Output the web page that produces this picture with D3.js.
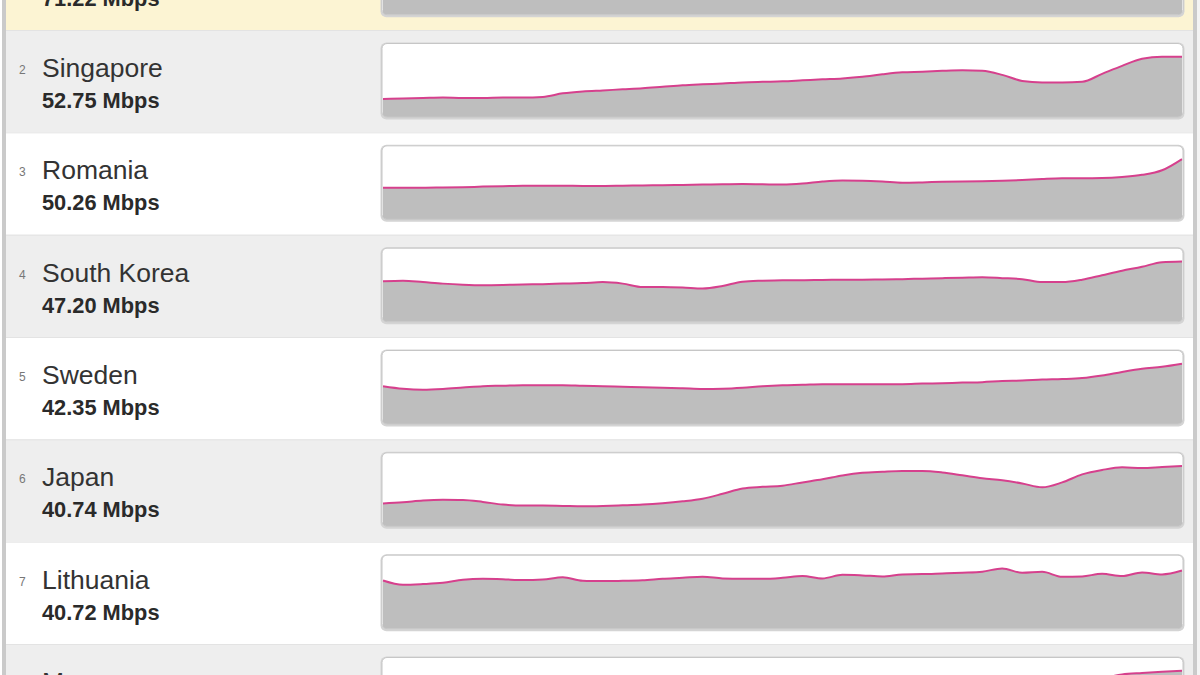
<!DOCTYPE html>
<html>
<head>
<meta charset="utf-8">
<script src="https://cdn.jsdelivr.net/npm/d3@7/dist/d3.min.js"></script>
<style>
  html, body { margin: 0; padding: 0; background: #ffffff; }
  svg { display: block; }
</style>
</head>
<body>
<svg id="chart" width="1200" height="675"></svg>
<script>
// ---------------- DATA ----------------
const ranks = [1, 2, 3, 4, 5, 6, 7, 8];
const countries = ["Hong Kong", "Singapore", "Romania", "South Korea", "Sweden", "Japan", "Lithuania", "Macau"];
const speedLabels = ["71.22 Mbps", "52.75 Mbps", "50.26 Mbps", "47.20 Mbps", "42.35 Mbps", "40.74 Mbps", "40.72 Mbps", ""];

const hongKong = [44.0, 46.5, 49.0, 52.0, 54.5, 57.0, 60.0, 62.5, 65.0, 68.0, 71.22];
const singapore = [15.8, 16.3, 16.7, 17.1, 16.7, 16.7, 17.1, 17.1, 17.6, 20.7, 22.4, 23.3, 24.2, 25.1, 26.4, 27.7, 28.6, 29.4, 30.3, 30.8, 31.2, 32.1, 33.0, 33.8, 35.2, 37.4, 39.1, 39.6, 40.4, 40.9, 40.4, 36.9, 31.6, 30.3, 30.3, 30.8, 37.8, 44.8, 51.0, 52.75, 52.75];
const romania = [26.4, 26.4, 26.4, 26.6, 26.8, 27.3, 27.7, 28.1, 28.1, 28.1, 27.9, 27.9, 28.1, 28.3, 28.5, 28.7, 29.0, 29.2, 29.4, 29.2, 29.0, 29.8, 31.5, 32.4, 32.2, 31.5, 30.5, 30.8, 31.3, 31.5, 31.7, 32.1, 32.8, 33.7, 34.3, 34.3, 34.5, 35.4, 37.1, 40.9, 50.26];
const southKorea = [31.7, 32.1, 31.0, 29.8, 29.0, 28.6, 28.8, 29.2, 29.4, 29.8, 30.2, 31.0, 29.8, 27.1, 27.1, 26.7, 25.9, 27.9, 31.3, 32.1, 32.5, 32.5, 32.7, 32.8, 32.9, 33.0, 33.3, 33.7, 34.1, 34.4, 34.7, 34.1, 33.3, 31.0, 31.0, 32.9, 36.4, 39.9, 43.0, 46.6, 47.20];
const sweden = [26.6, 24.8, 24.1, 24.6, 25.6, 26.6, 26.9, 27.3, 27.3, 27.3, 26.9, 26.6, 26.2, 25.8, 25.5, 25.1, 24.6, 24.8, 25.5, 26.6, 27.3, 27.6, 28.0, 28.0, 28.0, 28.0, 28.0, 28.4, 28.7, 29.1, 29.4, 30.2, 30.5, 31.2, 31.6, 32.3, 34.1, 36.6, 38.8, 40.2, 42.35];
const japan = [15.4, 16.2, 17.4, 17.9, 17.8, 16.5, 14.7, 14.0, 14.0, 13.8, 13.6, 13.8, 14.2, 14.7, 15.6, 16.9, 18.7, 22.0, 25.6, 26.7, 27.5, 29.7, 31.8, 34.4, 36.2, 36.9, 37.4, 37.4, 36.4, 34.5, 32.5, 31.1, 29.0, 26.4, 29.7, 35.1, 38.1, 39.9, 39.4, 40.1, 40.74];
const lithuania = [33.7, 30.7, 31.2, 32.1, 34.2, 34.9, 34.6, 34.0, 34.4, 36.0, 33.5, 33.4, 33.5, 33.9, 34.9, 35.6, 36.4, 35.2, 34.9, 34.9, 35.6, 36.9, 35.2, 37.7, 37.3, 36.6, 38.0, 38.2, 38.7, 39.2, 39.9, 42.2, 39.1, 39.8, 36.3, 36.6, 38.4, 36.8, 39.4, 38.0, 40.72];
const macau = [18.0, 18.5, 19.0, 19.0, 19.5, 20.0, 20.0, 20.5, 21.0, 21.5, 22.0, 22.0, 22.5, 23.0, 23.0, 23.5, 24.0, 24.5, 25.0, 25.0, 25.5, 26.0, 26.5, 27.0, 27.0, 27.5, 28.0, 28.5, 29.0, 29.5, 30.0, 30.5, 31.0, 31.5, 32.0, 33.0, 35.0, 37.5, 38.5, 39.3, 40.0];

const seriesList = [hongKong, singapore, romania, southKorea, sweden, japan, lithuania, macau];

// ---------------- LAYOUT ----------------
const W = 1200, H = 675;
const rowH = 102.33;
const firstTop = 30 - rowH;         // first row partially scrolled off
const boxX0 = 382, boxX1 = 1183;
const boxTopOff = 13.5, boxBotOff = 87;
const rowFills = ["#fcf4d3", "#eeeeee", "#ffffff", "#eeeeee", "#ffffff", "#eeeeee", "#ffffff", "#eeeeee"];

const svg = d3.select("#chart");
svg.append("rect").attr("width", W).attr("height", H).attr("fill", "#ffffff");

const defs = svg.append("defs");

const rows = svg.selectAll("g.row")
  .data(countries.map((c, i) => ({ name: c, rank: ranks[i], speed: speedLabels[i], values: seriesList[i], i })))
  .join("g")
  .attr("class", "row")
  .attr("transform", d => `translate(0,${firstTop + d.i * rowH})`);

rows.append("rect")
  .attr("x", 6).attr("y", 0)
  .attr("width", 1187).attr("height", rowH + 0.5)
  .attr("fill", d => rowFills[d.i]);

rows.append("line")
  .attr("x1", 6).attr("x2", 1193)
  .attr("y1", 0.5).attr("y2", 0.5)
  .attr("stroke", "#e3e3e3").attr("stroke-width", 1);

// Text
rows.append("text")
  .attr("x", 19).attr("y", 44)
  .attr("font-family", "Liberation Sans, Arial, Helvetica, sans-serif")
  .attr("font-size", 12)
  .attr("fill", "#777777")
  .text(d => d.rank);

rows.append("text")
  .attr("x", 42).attr("y", 47)
  .attr("font-family", "Liberation Sans, Arial, Helvetica, sans-serif")
  .attr("font-size", 26.5)
  .attr("fill", "#333333")
  .text(d => d.name);

rows.append("text")
  .attr("x", 42).attr("y", 78)
  .attr("font-family", "Liberation Sans, Arial, Helvetica, sans-serif")
  .attr("font-size", 21.8)
  .attr("font-weight", "bold")
  .attr("fill", "#2a2a2a")
  .text(d => d.speed);

// Sparkline boxes
const boxW = boxX1 - boxX0, boxH = boxBotOff - boxTopOff;

rows.each(function(d) {
  const g = d3.select(this);
  const clipId = "clip" + d.i;
  defs.append("clipPath").attr("id", clipId)
    .append("rect")
    .attr("x", boxX0).attr("y", boxTopOff)
    .attr("width", boxW).attr("height", boxH)
    .attr("rx", 5).attr("ry", 5);

  // soft shadow
  g.append("rect")
    .attr("x", boxX0 - 1.5).attr("y", boxTopOff - 1)
    .attr("width", boxW + 3).attr("height", boxH + 3.5)
    .attr("rx", 6).attr("ry", 6)
    .attr("fill", "#d4d4d4");

  g.append("rect")
    .attr("x", boxX0).attr("y", boxTopOff)
    .attr("width", boxW).attr("height", boxH)
    .attr("rx", 5).attr("ry", 5)
    .attr("fill", "#ffffff");

  const x = d3.scaleLinear()
    .domain([0, d.values.length - 1])
    .range([boxX0 + 1, boxX1 - 1]);
  const y = d3.scaleLinear()
    .domain([0, d3.max(d.values) * 1.22])
    .range([boxBotOff, boxTopOff]);

  const area = d3.area()
    .x((v, k) => x(k))
    .y0(boxBotOff)
    .y1(v => y(v))
    .curve(d3.curveMonotoneX);
  const line = d3.line()
    .x((v, k) => x(k))
    .y(v => y(v))
    .curve(d3.curveMonotoneX);

  const inner = g.append("g").attr("clip-path", `url(#${clipId})`);
  inner.append("path")
    .datum(d.values)
    .attr("d", area)
    .attr("fill", "#bebebe");
  inner.append("path")
    .datum(d.values)
    .attr("d", line)
    .attr("fill", "none")
    .attr("stroke", "#d6408d")
    .attr("stroke-width", 2)
    .attr("stroke-linejoin", "round");

  g.append("rect")
    .attr("x", boxX0).attr("y", boxTopOff)
    .attr("width", boxW).attr("height", boxH)
    .attr("rx", 5).attr("ry", 5)
    .attr("fill", "none")
    .attr("stroke", "#c6c6c6").attr("stroke-width", 1);
});

// outer frame borders
svg.append("rect").attr("x", 2).attr("y", 0).attr("width", 4).attr("height", H).attr("fill", "#cacaca");
svg.append("rect").attr("x", 1193).attr("y", 0).attr("width", 4).attr("height", H).attr("fill", "#cacaca");
svg.append("rect").attr("x", 1197).attr("y", 0).attr("width", 3).attr("height", H).attr("fill", "#f4f4f4");
</script>
</body>
</html>
